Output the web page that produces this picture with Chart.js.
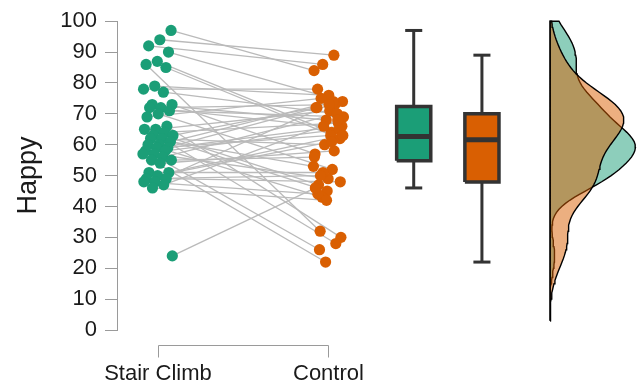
<!DOCTYPE html>
<html>
<head>
<meta charset="utf-8">
<script src="https://cdn.jsdelivr.net/npm/chart.js"></script>
<style>
  html, body { margin: 0; padding: 0; background: #fff; }
</style>
</head>
<body>
<canvas id="happyChart" width="641" height="386"></canvas>
<script>
'use strict';

// values
var categories = ["Stair Climb", "Control"];
var yTicks = [0, 10, 20, 30, 40, 50, 60, 70, 80, 90, 100];

// paired scores, same participant at the same index
var stairClimb = [97, 94, 92, 90, 87, 86, 85, 79, 78, 77, 73, 73, 72, 72, 71, 70, 69, 66, 65, 65, 64, 63, 63, 62,
                  62, 61, 60, 60, 59, 59, 58, 58, 57, 57, 56, 55, 55, 54, 51, 51, 50, 49, 49, 48, 48, 47, 46, 24];
var control    = [84, 89, 86, 74, 64, 32, 62, 76, 78, 70, 68, 57, 73, 66, 69, 52, 75, 30, 71, 47, 67, 45, 72, 28,
                  60, 53, 74, 43, 66, 63, 26, 65, 49, 72, 70, 22, 56, 58, 51, 63, 61, 50, 48, 73, 44, 68, 42, 46];

// boxplot stats: [min, q1, median, q3, max]
var stairBox   = [46, 54.8, 62.7, 72.4, 97];
var controlBox = [22, 47.9, 61.6, 70.0, 89];

var colors = {
  green      : "#1b9e77",
  orange     : "#d95f02",
  greenSoft  : "rgba(27, 158, 119, 0.5)",
  orangeSoft : "rgba(217, 95, 2, 0.5)",
  pairLine   : "#bababa",
  boxLine    : "#333333",
  axis       : "#9a9a9a",
  text       : "#1a1a1a"
};

var fontFamily = "'Liberation Sans', Arial, Helvetica, sans-serif";
Chart.defaults.font.family = fontFamily;

// layout on the x scale (category 1 and 2 are the dot columns)
var boxX = [2.5, 2.9];
var boxHalf = 0.1;
var capHalf = 0.05;
var densityBase = 3.3;
var densityWidth = 0.5;
var jitterWidth = 0.18;

function jitter(i, salt) {
  return ((((i + salt) * 7919) % 97) / 96 - 0.5) * jitterWidth;
}

function quantile(sorted, p) {
  var h = (sorted.length - 1) * p;
  var lo = Math.floor(h);
  var hi = Math.ceil(h);
  return sorted[lo] + (sorted[hi] - sorted[lo]) * (h - lo);
}

function kde(values, grid) {
  var n = values.length;
  var mean = values.reduce(function(a, b) { return a + b; }, 0) / n;
  var sd = Math.sqrt(values.reduce(function(a, b) { return a + (b - mean) * (b - mean); }, 0) / (n - 1));
  var sorted = values.slice().sort(function(a, b) { return a - b; });
  var iqr = quantile(sorted, 0.75) - quantile(sorted, 0.25);
  var bw = 0.9 * Math.min(sd, iqr / 1.34) * Math.pow(n, -0.2);
  return grid.map(function(v) {
    var s = 0;
    values.forEach(function(x) {
      var z = (v - x) / bw;
      s += Math.exp(-0.5 * z * z);
    });
    return s / (n * bw * Math.sqrt(2 * Math.PI));
  });
}

var datasets = [];

// paired lines
stairClimb.forEach(function(s, i) {
  datasets.push({
    type: 'line',
    data: [{x: 1 + jitter(i, 3), y: s}, {x: 2 + jitter(i, 11), y: control[i]}],
    borderColor: colors.pairLine,
    borderWidth: 1.3,
    pointRadius: 0,
    order: 20
  });
});

// dots
[stairClimb, control].forEach(function(vals, g) {
  datasets.push({
    type: 'line',
    showLine: false,
    data: vals.map(function(v, i) { return {x: g + 1 + jitter(i, g === 0 ? 3 : 11), y: v}; }),
    pointRadius: 5.6,
    pointBorderWidth: 0,
    pointBackgroundColor: g === 0 ? colors.green : colors.orange,
    pointBorderColor: g === 0 ? colors.green : colors.orange,
    order: 10
  });
});

// boxplots
[stairBox, controlBox].forEach(function(b, g) {
  var cx = boxX[g];
  var segs = [
    [[cx, b[3]], [cx, b[4]]],
    [[cx - capHalf, b[4]], [cx + capHalf, b[4]]],
    [[cx, b[1]], [cx, b[0]]],
    [[cx - capHalf, b[0]], [cx + capHalf, b[0]]]
  ];
  segs.forEach(function(sg) {
    datasets.push({
      type: 'line',
      data: sg.map(function(p) { return {x: p[0], y: p[1]}; }),
      borderColor: colors.boxLine,
      borderWidth: 3,
      pointRadius: 0,
      order: 9
    });
  });
  datasets.push({
    type: 'line',
    data: [
      {x: cx - boxHalf, y: b[1]}, {x: cx + boxHalf, y: b[1]},
      {x: cx + boxHalf, y: b[3]}, {x: cx - boxHalf, y: b[3]},
      {x: cx - boxHalf, y: b[1]}
    ],
    fill: 'shape',
    backgroundColor: g === 0 ? colors.green : colors.orange,
    borderColor: colors.boxLine,
    borderWidth: 3.5,
    pointRadius: 0,
    order: 8
  });
  datasets.push({
    type: 'line',
    data: [{x: cx - boxHalf, y: b[2]}, {x: cx + boxHalf, y: b[2]}],
    borderColor: colors.boxLine,
    borderWidth: 5,
    pointRadius: 0,
    order: 7
  });
});

// half densities
var grid = [];
for (var v = 3; v <= 100; v += 1) grid.push(v);
var dens = [kde(stairClimb, grid), kde(control, grid)];
var dMax = Math.max(Math.max.apply(null, dens[0]), Math.max.apply(null, dens[1]));
dens.forEach(function(d, g) {
  var pts = grid.map(function(v, k) { return {x: densityBase + d[k] / dMax * densityWidth, y: v}; });
  pts.push({x: densityBase, y: grid[grid.length - 1]});
  pts.push({x: densityBase, y: grid[0]});
  pts.push({x: pts[0].x, y: grid[0]});
  datasets.push({
    type: 'line',
    data: pts,
    fill: 'shape',
    backgroundColor: g === 0 ? colors.greenSoft : colors.orangeSoft,
    borderColor: '#000',
    borderWidth: 1.4,
    pointRadius: 0,
    tension: 0,
    order: g === 0 ? 4 : 3
  });
});

// bracket under the two categories
var bracket = {
  id: 'bracket',
  afterDraw: function(chart) {
    var xs = chart.scales.x;
    var ctx = chart.ctx;
    var x1 = Math.round(xs.getPixelForValue(1)) + 0.5;
    var x2 = Math.round(xs.getPixelForValue(2)) + 0.5;
    var top = Math.round(chart.chartArea.bottom + 15) + 0.5;
    ctx.save();
    ctx.strokeStyle = colors.axis;
    ctx.lineWidth = 1;
    ctx.beginPath();
    ctx.moveTo(x1, top + 12);
    ctx.lineTo(x1, top);
    ctx.lineTo(x2, top);
    ctx.lineTo(x2, top + 12);
    ctx.stroke();
    ctx.restore();
  }
};

new Chart(document.getElementById('happyChart'), {
  type: 'line',
  data: { datasets: datasets },
  plugins: [bracket],
  options: {
    responsive: false,
    animation: false,
    events: [],
    clip: false,
    layout: { padding: { top: 20, right: 1, left: 0, bottom: 0 } },
    plugins: {
      legend: { display: false },
      tooltip: { enabled: false }
    },
    scales: {
      x: {
        type: 'linear',
        min: 0.76,
        max: 3.8,
        offset: false,
        grid: { display: false, drawTicks: false },
        border: { display: false },
        afterBuildTicks: function(scale) {
          scale.ticks = categories.map(function(c, i) { return {value: i + 1}; });
        },
        ticks: {
          autoSkip: false,
          maxRotation: 0,
          padding: 31,
          color: colors.text,
          font: { size: 22 },
          callback: function(value) { return categories[value - 1]; }
        },
        afterFit: function(scale) { scale.height = 56; }
      },
      y: {
        min: 0,
        max: 100,
        afterBuildTicks: function(scale) {
          scale.ticks = yTicks.map(function(t) { return {value: t}; });
        },
        grid: {
          drawOnChartArea: false,
          tickLength: 12,
          color: colors.axis
        },
        border: { color: colors.axis },
        ticks: {
          padding: 8,
          color: colors.text,
          font: { size: 22 }
        },
        title: {
          display: true,
          text: 'Happy',
          color: colors.text,
          font: { size: 27 },
          padding: { top: 12, bottom: 0 }
        },
        afterFit: function(scale) { scale.width = 117; }
      }
    }
  }
});
</script>
</body>
</html>
